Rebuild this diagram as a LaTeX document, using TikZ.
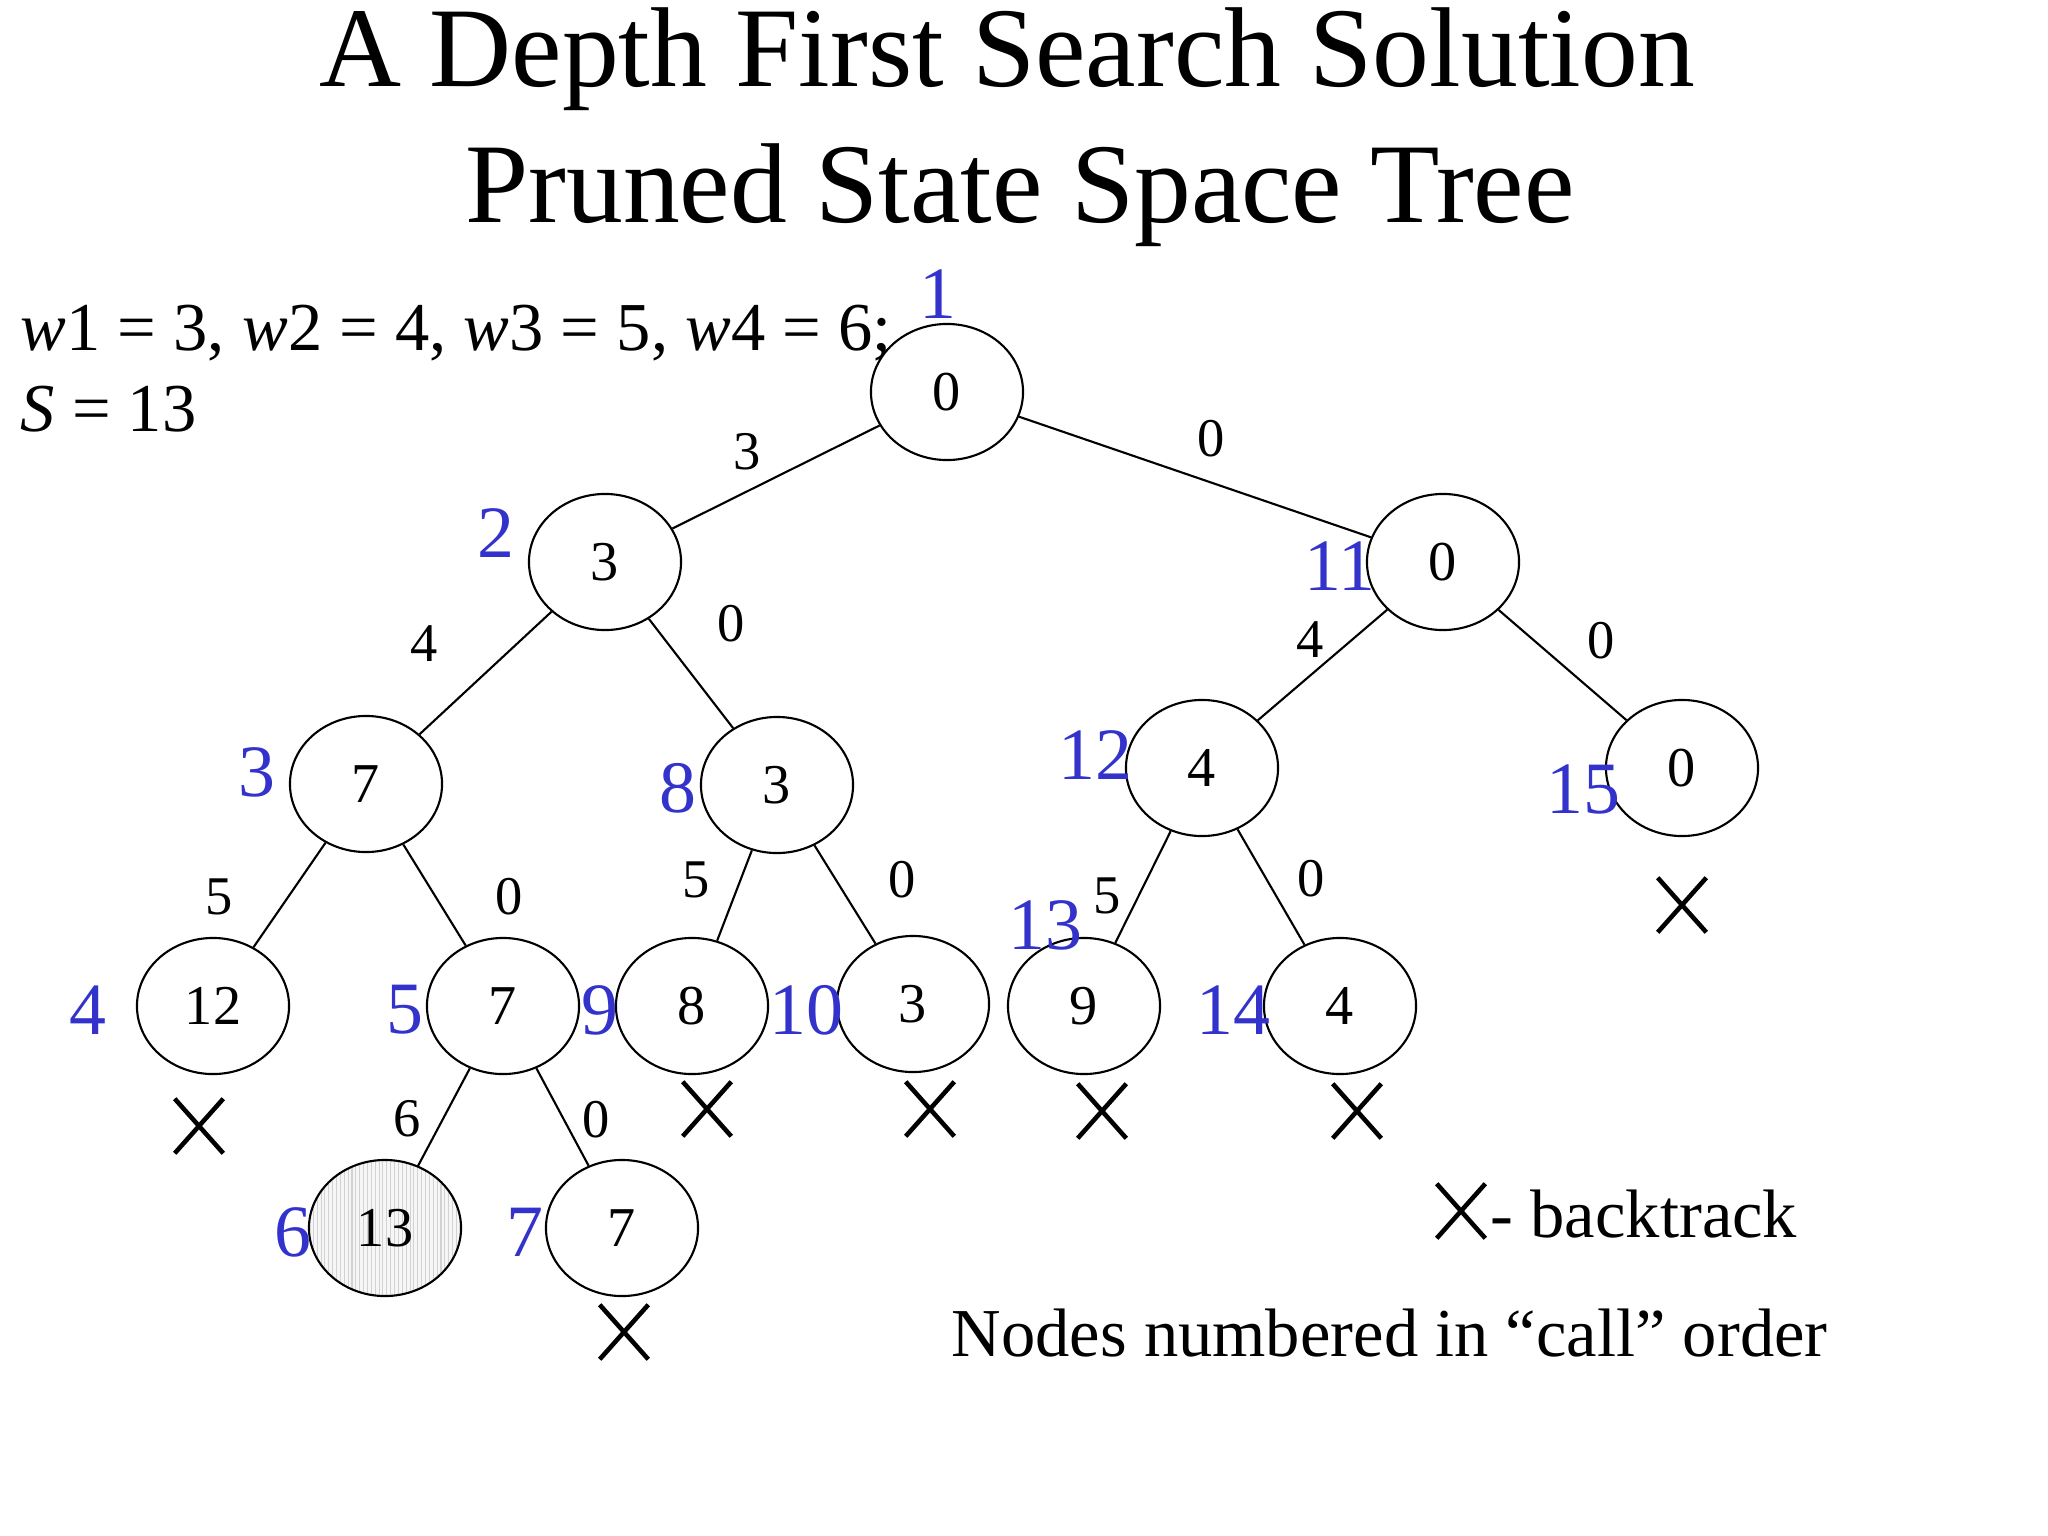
\documentclass[tikz,border=0pt]{standalone}
\usepackage{fontspec}
\setmainfont{Liberation Serif}
\usetikzlibrary{shapes.geometric,shapes.misc,patterns.meta}
\definecolor{callblue}{RGB}{51,51,204}

\begin{document}
\begin{tikzpicture}[x=0.01cm, y=-0.01cm,
    state/.style={ellipse, draw, line width=0.6pt, minimum width=1.52cm,
        minimum height=1.36cm, inner sep=0pt, font=\fontsize{16}{16}\selectfont},
    goal/.style={state, preaction={fill=gray!7},
        pattern={Lines[angle=90, distance=1.1pt, line width=0.3pt]}, pattern color=gray!35},
    edge/.style={line width=0.6pt},
    wt/.style={inner sep=0pt, font=\fontsize{15.5}{15.5}\selectfont},
    callno/.style={inner sep=0pt, text=callblue, font=\fontsize{21}{21}\selectfont},
    dead/.style={cross out, draw, line width=1.3pt, minimum width=0.44cm,
        minimum height=0.5cm, inner sep=0pt},
    txt/.style={inner sep=0pt, anchor=base west, font=\fontsize{19.5}{19.5}\selectfont}]
\useasboundingbox (0,0) rectangle (2048,1536);

% title and problem
\node[inner sep=0pt, anchor=base, font=\fontsize{32.3}{32.3}\selectfont] (title1) at (1007,86) {A Depth First Search Solution};
\node[inner sep=0pt, anchor=base, font=\fontsize{32.3}{32.3}\selectfont] (title2) at (1020,222) {Pruned State Space Tree};
\node[txt] (weights) at (20,350) {\textit{w}1 = 3, \textit{w}2 = 4, \textit{w}3 = 5, \textit{w}4 = 6;};
\node[txt] (sum) at (20,431) {\textit{S} = 13};

% states
\node[state] (n1)  at (947,392)   {0};
\node[state] (n2)  at (605,562)   {3};
\node[state] (n11) at (1443,562)  {0};
\node[state] (n3)  at (366,784)   {7};
\node[state] (n8)  at (777,785)   {3};
\node[state] (n12) at (1202,768)  {4};
\node[state] (n15) at (1682,768)  {0};
\node[state] (n4)  at (213,1006)  {12};
\node[state] (n5)  at (503,1006)  {7};
\node[state] (n9)  at (692,1006)  {8};
\node[state] (n10) at (913,1004)  {3};
\node[state] (n13) at (1084,1006) {9};
\node[state] (n14) at (1340,1006) {4};
\node[goal]  (n6)  at (385,1228)  {13};
\node[state] (n7)  at (622,1228)  {7};

% call order
\node[callno] (c1)  at (938,294)   {1};
\node[callno] (c2)  at (496,533)   {2};
\node[callno] (c3)  at (257,772)   {3};
\node[callno] (c4)  at (88,1010)   {4};
\node[callno] (c5)  at (405,1010)  {5};
\node[callno] (c6)  at (293,1232)  {6};
\node[callno] (c7)  at (525,1232)  {7};
\node[callno] (c8)  at (678,788)   {8};
\node[callno] (c9)  at (600,1010)  {9};
\node[callno] (c10) at (806,1010)  {10};
\node[callno] (c11) at (1340,566)  {11};
\node[callno] (c12) at (1095,755)  {12};
\node[callno] (c13) at (1045,925)  {13};
\node[callno] (c14) at (1233,1010) {14};
\node[callno] (c15) at (1583,789)  {15};

% edges
\draw[edge] (n1) -- (n2);
\draw[edge] (n1) -- (n11);
\draw[edge] (n2) -- (n3);
\draw[edge] (n2) -- (n8);
\draw[edge] (n11) -- (n12);
\draw[edge] (n11) -- (n15);
\draw[edge] (n3) -- (n4);
\draw[edge] (n3) -- (n5);
\draw[edge] (n8) -- (n9);
\draw[edge] (n8) -- (n10);
\draw[edge] (n12) -- (n13);
\draw[edge] (n12) -- (n14);
\draw[edge] (n5) -- (n6);
\draw[edge] (n5) -- (n7);

% weights on edges
\node[wt] (w1)  at (747,452)   {3};
\node[wt] (w2)  at (1211,439)  {0};
\node[wt] (w3)  at (424,644)   {4};
\node[wt] (w4)  at (731,624)   {0};
\node[wt] (w5)  at (1310,640)  {4};
\node[wt] (w6)  at (1601,641)  {0};
\node[wt] (w7)  at (219,897)   {5};
\node[wt] (w8)  at (509,897)   {0};
\node[wt] (w9)  at (696,880)   {5};
\node[wt] (w10) at (902,880)   {0};
\node[wt] (w11) at (1107,896)  {5};
\node[wt] (w12) at (1311,879)  {0};
\node[wt] (w13) at (407,1119)  {6};
\node[wt] (w14) at (596,1120)  {0};

% backtracks
\node[dead] (x4)  at (199,1126)  {};
\node[dead] (x9)  at (707,1109)  {};
\node[dead] (x10) at (930,1109)  {};
\node[dead] (x13) at (1102,1111) {};
\node[dead] (x14) at (1357,1111) {};
\node[dead] (x15) at (1682,905)  {};
\node[dead] (x7)  at (624,1332)  {};

% legend
\node[dead] (xkey) at (1461,1211) {};
\node[txt] (keytext) at (1490,1237) {- backtrack};
\node[txt] (note) at (951,1356) {Nodes numbered in “call” order};
\end{tikzpicture}
\end{document}
